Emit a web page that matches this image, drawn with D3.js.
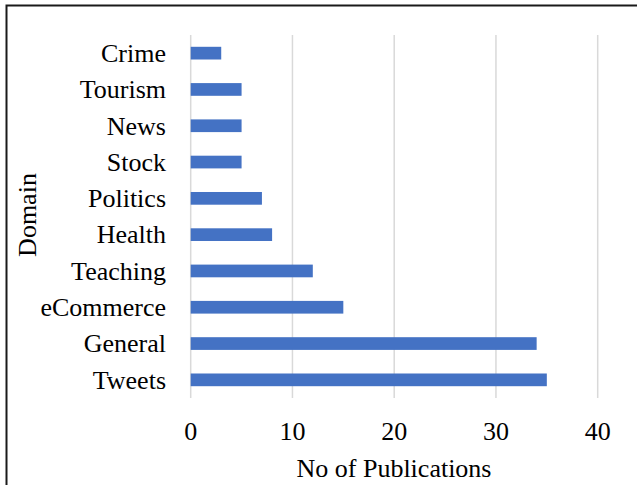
<!DOCTYPE html>
<html>
<head>
<meta charset="utf-8">
<script src="https://cdn.jsdelivr.net/npm/d3@7"></script>
<style>
  body { margin: 0; background: #fff; }
  svg { display: block; }
</style>
</head>
<body>
<div id="chart"></div>
<script>
// data (top to bottom)
const domains = ["Crime", "Tourism", "News", "Stock", "Politics", "Health", "Teaching", "eCommerce", "General", "Tweets"];
const publications = [3, 5, 5, 5, 7, 8, 12, 15, 34, 35];
const xTicks = [0, 10, 20, 30, 40];

const width = 637, height = 485;
const plotLeft = 190.7, plotRight = 597.7, plotTop = 35, plotBottom = 398;
const serif = "'Liberation Serif', 'Times New Roman', Times, serif";
const fontSize = 26;

const svg = d3.select("#chart")
  .append("svg")
  .attr("width", width)
  .attr("height", height)
  .style("font-family", serif);

// outer frame (runs off the right / bottom edge)
svg.append("rect")
  .attr("x", 6.5).attr("y", 5.5)
  .attr("width", 700).attr("height", 600)
  .attr("fill", "none")
  .attr("stroke", "#1a1a1a")
  .attr("stroke-width", 2);

const x = d3.scaleLinear().domain([0, 40]).range([plotLeft, plotRight]);
const y = d3.scaleBand().domain(domains).range([plotTop, plotBottom])
  .paddingInner(0.65).paddingOuter(0.325);

// gridlines
svg.append("g")
  .selectAll("line")
  .data(xTicks)
  .join("line")
  .attr("x1", d => x(d)).attr("x2", d => x(d))
  .attr("y1", plotTop).attr("y2", plotBottom)
  .attr("stroke", "#d9d9d9")
  .attr("stroke-width", 1.5);

// bars
svg.append("g")
  .selectAll("rect")
  .data(domains)
  .join("rect")
  .attr("x", x(0))
  .attr("y", d => y(d))
  .attr("width", (d, i) => x(publications[i]) - x(0))
  .attr("height", y.bandwidth())
  .attr("fill", "#4472c4");

// category labels
svg.append("g")
  .selectAll("text")
  .data(domains)
  .join("text")
  .attr("x", 166)
  .attr("y", d => y(d) + y.bandwidth() / 2)
  .attr("dy", "0.34em")
  .attr("text-anchor", "end")
  .attr("font-size", fontSize)
  .attr("fill", "#000")
  .text(d => d);

// x tick labels
svg.append("g")
  .selectAll("text")
  .data(xTicks)
  .join("text")
  .attr("x", d => x(d))
  .attr("y", 439.5)
  .attr("text-anchor", "middle")
  .attr("font-size", fontSize)
  .attr("fill", "#000")
  .text(d => d);

// axis titles
svg.append("text")
  .attr("x", 394)
  .attr("y", 477)
  .attr("text-anchor", "middle")
  .attr("font-size", fontSize)
  .text("No of Publications");

svg.append("text")
  .attr("transform", "translate(36,215) rotate(-90)")
  .attr("text-anchor", "middle")
  .attr("font-size", fontSize)
  .text("Domain");
</script>
</body>
</html>
